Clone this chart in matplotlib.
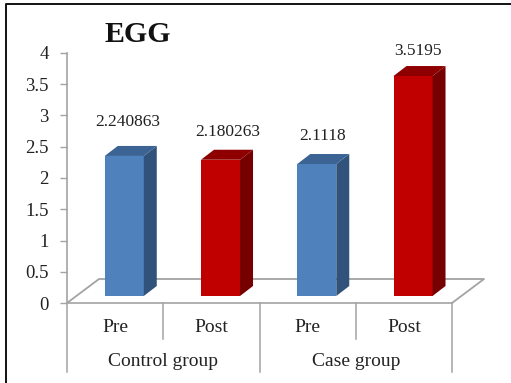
import matplotlib
matplotlib.use('Agg')
import matplotlib.pyplot as plt
from matplotlib.lines import Line2D
from matplotlib.patches import Polygon

plt.rcParams['font.family'] = 'Liberation Serif'

groups = ['Control group', 'Case group']
categories = ['Pre', 'Post', 'Pre', 'Post']
values = [2.240863, 2.180263, 2.1118, 3.5195]
value_labels = ['2.240863', '2.180263', '2.1118', '3.5195']
y_ticks = [0, 0.5, 1, 1.5, 2, 2.5, 3, 3.5, 4]
y_tick_labels = ['0', '0.5', '1', '1.5', '2', '2.5', '3', '3.5', '4']

W, H = 511, 383
gray = '#a3a3a3'
text_col = '#222222'
front = ['#4f81bd', '#c00000', '#4f81bd', '#c00000']
side = ['#31527b', '#760000', '#31527b', '#760000']
top = ['#3b6494', '#8e0000', '#3b6494', '#8e0000']

fig = plt.figure(figsize=(W / 100, H / 100), dpi=100, facecolor='white')
# axes box = the front edge of the chart floor, in pixels
ax = fig.add_axes([67 / W, 1 - 303 / H, 385 / W, 250 / H])
ax.set_xlim(0, 4)
ax.set_ylim(0, 4)
ax.patch.set_visible(False)

px_x = 4 / 385
px_y = 4 / 250
floor_dx, floor_dy = 32 * px_x, 24 * px_y
depth_dx, depth_dy = 13 * px_x, 10 * px_y
base = 7 * px_y
bar_w = 39 * px_x
bar_c = [i + 0.595 for i in range(4)]

# floor
ax.plot([0, floor_dx, 4 + floor_dx, 4], [0, floor_dy, floor_dy, 0],
        color=gray, lw=1.3, clip_on=False, zorder=1)

# bars
ax.bar(bar_c, [v for v in values], bottom=base, width=bar_w, color=front, zorder=3)
for c, v, s, t in zip(bar_c, values, side, top):
    l, r = c - bar_w / 2, c + bar_w / 2
    y1 = base + v
    ax.add_patch(Polygon([(r, base), (r + depth_dx, base + depth_dy),
                          (r + depth_dx, y1 + depth_dy), (r, y1)],
                         color=s, lw=0, clip_on=False, zorder=3))
    ax.add_patch(Polygon([(l, y1), (l + depth_dx, y1 + depth_dy),
                          (r + depth_dx, y1 + depth_dy), (r, y1)],
                         color=t, lw=0, clip_on=False, zorder=3))

# value labels, placed by hand like in the original
label_dx = [3.5, 7.5, 6, 4.5]
label_dy = [34, 28, 28, 25]
for c, v, s, dx, dy in zip(bar_c, values, value_labels, label_dx, label_dy):
    ax.text(c + dx * px_x, base + v + dy * px_y, s, ha='center', va='center',
            fontsize=12.5, color=text_col, clip_on=False)

# axes
ax.set_yticks(y_ticks)
ax.set_yticklabels(y_tick_labels, fontsize=13.5, color=text_col)
ax.set_xticks([])
ax.tick_params(axis='y', length=5, width=1, color=gray, pad=8.2)
for name in ['top', 'right']:
    ax.spines[name].set_visible(False)
for name in ['left', 'bottom']:
    ax.spines[name].set_color(gray)
    ax.spines[name].set_linewidth(1.2)

# two level category axis
for x in [0, 2, 4]:
    ax.plot([x, x], [0, -69 * px_y], color=gray, lw=1.1, clip_on=False)
for x in [1, 3]:
    ax.plot([x, x], [0, -36 * px_y], color=gray, lw=1.1, clip_on=False)
for i, name in enumerate(categories):
    ax.text(i + 0.5, -25 * px_y, name, ha='center', va='center', fontsize=14,
            color=text_col, clip_on=False)
for i, name in enumerate(groups):
    ax.text(2 * i + 1, -59 * px_y, name, ha='center', va='center', fontsize=14,
            color=text_col, clip_on=False)

fig.text(137.5 / W, 1 - 35 / H, 'EGG', fontsize=21.5, fontweight='bold', color='#111111',
         ha='center', va='center')

# picture frame, cut off at right and bottom
fig.add_artist(Line2D([6 / W, 6 / W, 1], [0, 1 - 4 / H, 1 - 4 / H], color='#111111', lw=1.4))

fig.savefig('out.png', dpi=100, facecolor='white')
